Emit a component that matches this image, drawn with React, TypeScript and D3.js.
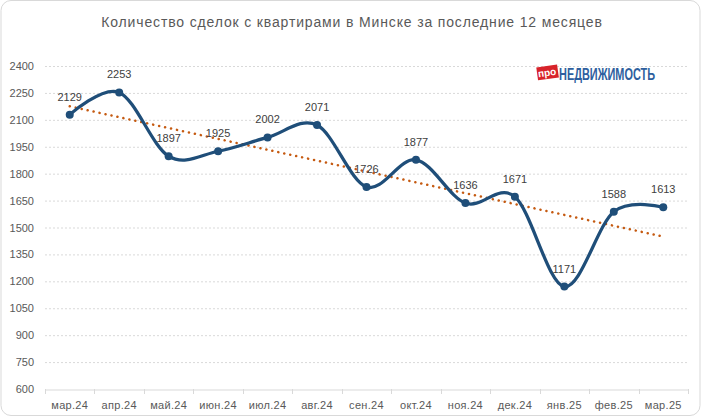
import * as d3 from "d3";
import { useRef, useEffect } from "react";

const months = [
  "мар.24", "апр.24", "май.24", "июн.24", "июл.24", "авг.24", "сен.24",
  "окт.24", "ноя.24", "дек.24", "янв.25", "фев.25", "мар.25",
];
const deals = [2129, 2253, 1897, 1925, 2002, 2071, 1726, 1877, 1636, 1671, 1171, 1588, 1613];
const yTicks = [600, 750, 900, 1050, 1200, 1350, 1500, 1650, 1800, 1950, 2100, 2250, 2400];
const title = "Количество сделок с квартирами в Минске за последние 12 месяцев";

const width = 704;
const height = 418;
const marginTop = 66;
const marginRight = 16;
const marginBottom = 29;
const marginLeft = 45;

const Chart = () => {
  const svgRef = useRef<SVGSVGElement | null>(null);

  useEffect(() => {
    if (!svgRef.current) return;
    const svg = d3.select(svgRef.current);
    svg.selectAll("*").remove();

    const font = "'Liberation Sans', Arial, sans-serif";
    const grey = "#595959";

    // chart frame
    svg
      .append("rect")
      .attr("x", 1)
      .attr("y", 0.5)
      .attr("width", 699)
      .attr("height", 415)
      .attr("rx", 10)
      .attr("fill", "#fff")
      .attr("stroke", "#d9d9d9");

    svg
      .append("text")
      .attr("x", 352)
      .attr("y", 27)
      .attr("text-anchor", "middle")
      .attr("font-family", font)
      .attr("font-size", 14)
      .attr("letter-spacing", 0.85)
      .attr("fill", grey)
      .text(title);

    const x = d3
      .scaleBand()
      .domain(months)
      .range([marginLeft, width - marginRight]);
    const cx = (m: string) => x(m)! + x.bandwidth() / 2;

    const y = d3
      .scaleLinear()
      .domain([600, 2400])
      .range([height - marginBottom, marginTop]);

    // grid
    svg
      .append("g")
      .selectAll("line")
      .data(yTicks.slice(1))
      .join("line")
      .attr("x1", marginLeft)
      .attr("x2", width - marginRight)
      .attr("y1", (d) => y(d) + 0.5)
      .attr("y2", (d) => y(d) + 0.5)
      .attr("stroke", "#d9d9d9")
      .attr("stroke-dasharray", "2,2");

    // y labels
    svg
      .append("g")
      .selectAll("text")
      .data(yTicks)
      .join("text")
      .attr("x", 34)
      .attr("y", (d) => y(d) + 4)
      .attr("text-anchor", "end")
      .attr("font-family", font)
      .attr("font-size", 11)
      .attr("fill", grey)
      .text((d) => d);

    // x axis
    const xAxis = svg
      .append("g")
      .attr("transform", `translate(0,${y(600) + 0.5})`)
      .call(d3.axisBottom(x).tickSize(0).tickPadding(12));
    xAxis.select(".domain").attr("stroke", "#d9d9d9");
    xAxis
      .selectAll("text")
      .attr("font-family", font)
      .attr("font-size", 11)
      .attr("letter-spacing", 0.3)
      .attr("fill", grey);

    svg
      .append("g")
      .selectAll("line")
      .data([...months.map((m) => x(m)!), width - marginRight])
      .join("line")
      .attr("x1", (d) => Math.round(d) + 0.5)
      .attr("x2", (d) => Math.round(d) + 0.5)
      .attr("y1", y(600))
      .attr("y2", y(600) + 5)
      .attr("stroke", "#d9d9d9");

    // linear trend
    const n = deals.length;
    const xm = (n - 1) / 2;
    const ym = d3.mean(deals)!;
    const slope =
      d3.sum(deals, (v, i) => (i - xm) * (v - ym)) /
      d3.sum(deals, (_, i) => (i - xm) * (i - xm));
    const trend = [0, n - 1].map((i) => ({ m: months[i], v: ym + slope * (i - xm) }));

    svg
      .append("line")
      .attr("x1", cx(trend[0].m))
      .attr("y1", y(trend[0].v))
      .attr("x2", cx(trend[1].m))
      .attr("y2", y(trend[1].v))
      .attr("stroke", "#c55a11")
      .attr("stroke-width", 2.5)
      .attr("stroke-linecap", "round")
      .attr("stroke-dasharray", "0.1,6");

    const pts = months.map((m, i) => ({ m, v: deals[i] }));

    const line = d3
      .line<{ m: string; v: number }>()
      .x((d) => cx(d.m))
      .y((d) => y(d.v))
      .curve(d3.curveCardinal.tension(0));

    svg
      .append("path")
      .datum(pts)
      .attr("fill", "none")
      .attr("stroke", "#1f4e79")
      .attr("stroke-width", 3.25)
      .attr("d", line);

    svg
      .append("g")
      .selectAll("circle")
      .data(pts)
      .join("circle")
      .attr("cx", (d) => cx(d.m))
      .attr("cy", (d) => y(d.v))
      .attr("r", 4)
      .attr("fill", "#1f4e79");

    svg
      .append("g")
      .selectAll("text")
      .data(pts)
      .join("text")
      .attr("x", (d) => cx(d.m))
      .attr("y", (d) => y(d.v) - 14)
      .attr("text-anchor", "middle")
      .attr("font-family", font)
      .attr("font-size", 11)
      .attr("fill", "#404040")
      .text((d) => d.v);

    // logo
    const logo = svg.append("g");
    logo
      .append("rect")
      .attr("x", 537)
      .attr("y", 66)
      .attr("width", 21)
      .attr("height", 13)
      .attr("fill", "#d8232a")
      .attr("transform", "rotate(-8,547,72)");
    logo
      .append("text")
      .attr("x", 547)
      .attr("y", 76)
      .attr("text-anchor", "middle")
      .attr("font-family", font)
      .attr("font-size", 10)
      .attr("font-weight", "bold")
      .attr("fill", "#fff")
      .attr("transform", "rotate(-8,547,72)")
      .text("про");
    logo
      .append("text")
      .attr("x", 559)
      .attr("y", 80)
      .attr("font-family", "'Liberation Sans Narrow', 'Liberation Sans', Arial, sans-serif")
      .attr("font-size", 16)
      .attr("font-weight", "bold")
      .attr("fill", "#2e5f9e")
      .attr("textLength", 96)
      .attr("lengthAdjust", "spacingAndGlyphs")
      .text("НЕДВИЖИМОСТЬ");
  }, []);

  return <svg ref={svgRef} width={width} height={height} style={{ display: "block" }}></svg>;
};

export default function App() {
  return (
    <div style={{ position: "absolute", left: 0, top: 0 }}>
      <Chart />
    </div>
  );
}
